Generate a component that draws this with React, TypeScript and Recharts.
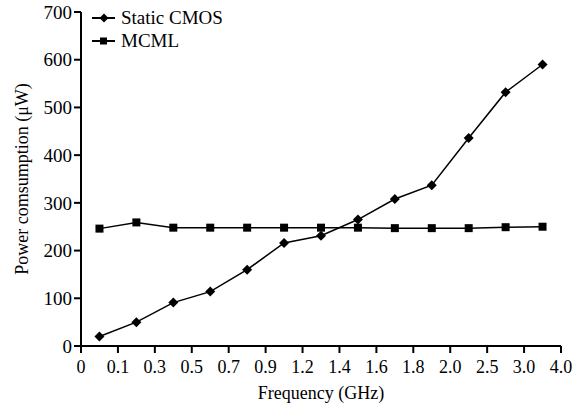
import { LineChart, Line, XAxis, YAxis } from "recharts";

// tick labels sit on the boundaries between the 13 measurement slots
const tickLabels = ["0", "0.1", "0.3", "0.5", "0.7", "0.9", "1.2", "1.4", "1.6", "1.8", "2.0", "2.5", "3.0", "4.0"];
const staticCmos = [20, 50, 91, 114, 160, 216, 231, 265, 308, 337, 436, 532, 590];
const mcml = [246, 259, 248, 248, 248, 248, 248, 248, 247, 247, 247, 249, 250];
const yTicks = [0, 100, 200, 300, 400, 500, 600, 700];

const data = staticCmos.map((v, i) => ({ x: i + 0.5, cmos: v, mcml: mcml[i] }));
const xTicks = tickLabels.map((_, i) => i);

const FONT = "'Times New Roman', 'Liberation Serif', Tinos, serif";

const Diamond = (props: any) => {
  const { cx, cy } = props;
  if (cx == null || cy == null) return null;
  const r = 5;
  return (
    <polygon
      points={`${cx},${cy - r} ${cx + r},${cy} ${cx},${cy + r} ${cx - r},${cy}`}
      fill="#000"
    />
  );
};

const Square = (props: any) => {
  const { cx, cy } = props;
  if (cx == null || cy == null) return null;
  const s = 8;
  return <rect x={cx - s / 2} y={cy - s / 2} width={s} height={s} fill="#000" />;
};

const legendItems = [
  { name: "Static CMOS", shape: "diamond" },
  { name: "MCML", shape: "square" },
];

const LegendBox = () => (
  <div
    style={{
      position: "absolute",
      left: 92,
      top: 6,
      fontFamily: FONT,
      fontSize: 19,
      color: "#000",
      lineHeight: "23px",
    }}
  >
    {legendItems.map((item) => (
      <div key={item.name} style={{ display: "flex", alignItems: "center" }}>
        <svg width={24} height={12} style={{ marginRight: 5 }}>
          <line x1={0} y1={6} x2={23} y2={6} stroke="#000" strokeWidth={2} />
          {item.shape === "diamond" ? (
            <polygon points="12,1.5 16.5,6 12,10.5 7.5,6" fill="#000" />
          ) : (
            <rect x={8} y={2.5} width={7} height={7} fill="#000" />
          )}
        </svg>
        <span>{item.name}</span>
      </div>
    ))}
  </div>
);

export default function App() {
  return (
    <div
      style={{
        position: "absolute",
        left: 0,
        top: 0,
        width: 584,
        height: 406,
        background: "#fff",
        fontFamily: FONT,
      }}
    >
      <LineChart
        width={584}
        height={406}
        data={data}
        margin={{ top: 12, right: 23, bottom: 0, left: 0 }}
        style={{ fontFamily: FONT }}
      >
        <XAxis
          dataKey="x"
          type="number"
          domain={[0, 13]}
          ticks={xTicks}
          interval={0}
          tickFormatter={(i: number) => tickLabels[i]}
          height={60}
          stroke="#000"
          strokeWidth={2}
          tickSize={7}
          tickMargin={7}
          tick={{ fill: "#000", fontSize: 18, style: { fontFamily: FONT } }}
          label={{
            value: "Frequency (GHz)",
            position: "insideBottom",
            offset: 7,
            fill: "#000",
            fontSize: 18,
            style: { fontFamily: FONT },
          }}
        />
        <YAxis
          type="number"
          domain={[0, 700]}
          ticks={yTicks}
          interval={0}
          width={81}
          stroke="#000"
          strokeWidth={2}
          tickSize={7}
          tickMargin={2}
          tick={{ fill: "#000", fontSize: 19, style: { fontFamily: FONT } }}
          label={{
            value: "Power comsumption (\u03bcW)",
            angle: -90,
            position: "insideLeft",
            offset: 22,
            style: { textAnchor: "middle", fontFamily: FONT },
            fill: "#000",
            fontSize: 18,
          }}
        />
        <Line
          dataKey="cmos"
          name="Static CMOS"
          stroke="#000"
          strokeWidth={1.5}
          dot={<Diamond />}
          activeDot={false}
          isAnimationActive={false}
        />
        <Line
          dataKey="mcml"
          name="MCML"
          stroke="#000"
          strokeWidth={1.5}
          dot={<Square />}
          activeDot={false}
          isAnimationActive={false}
        />
      </LineChart>
      <LegendBox />
    </div>
  );
}
